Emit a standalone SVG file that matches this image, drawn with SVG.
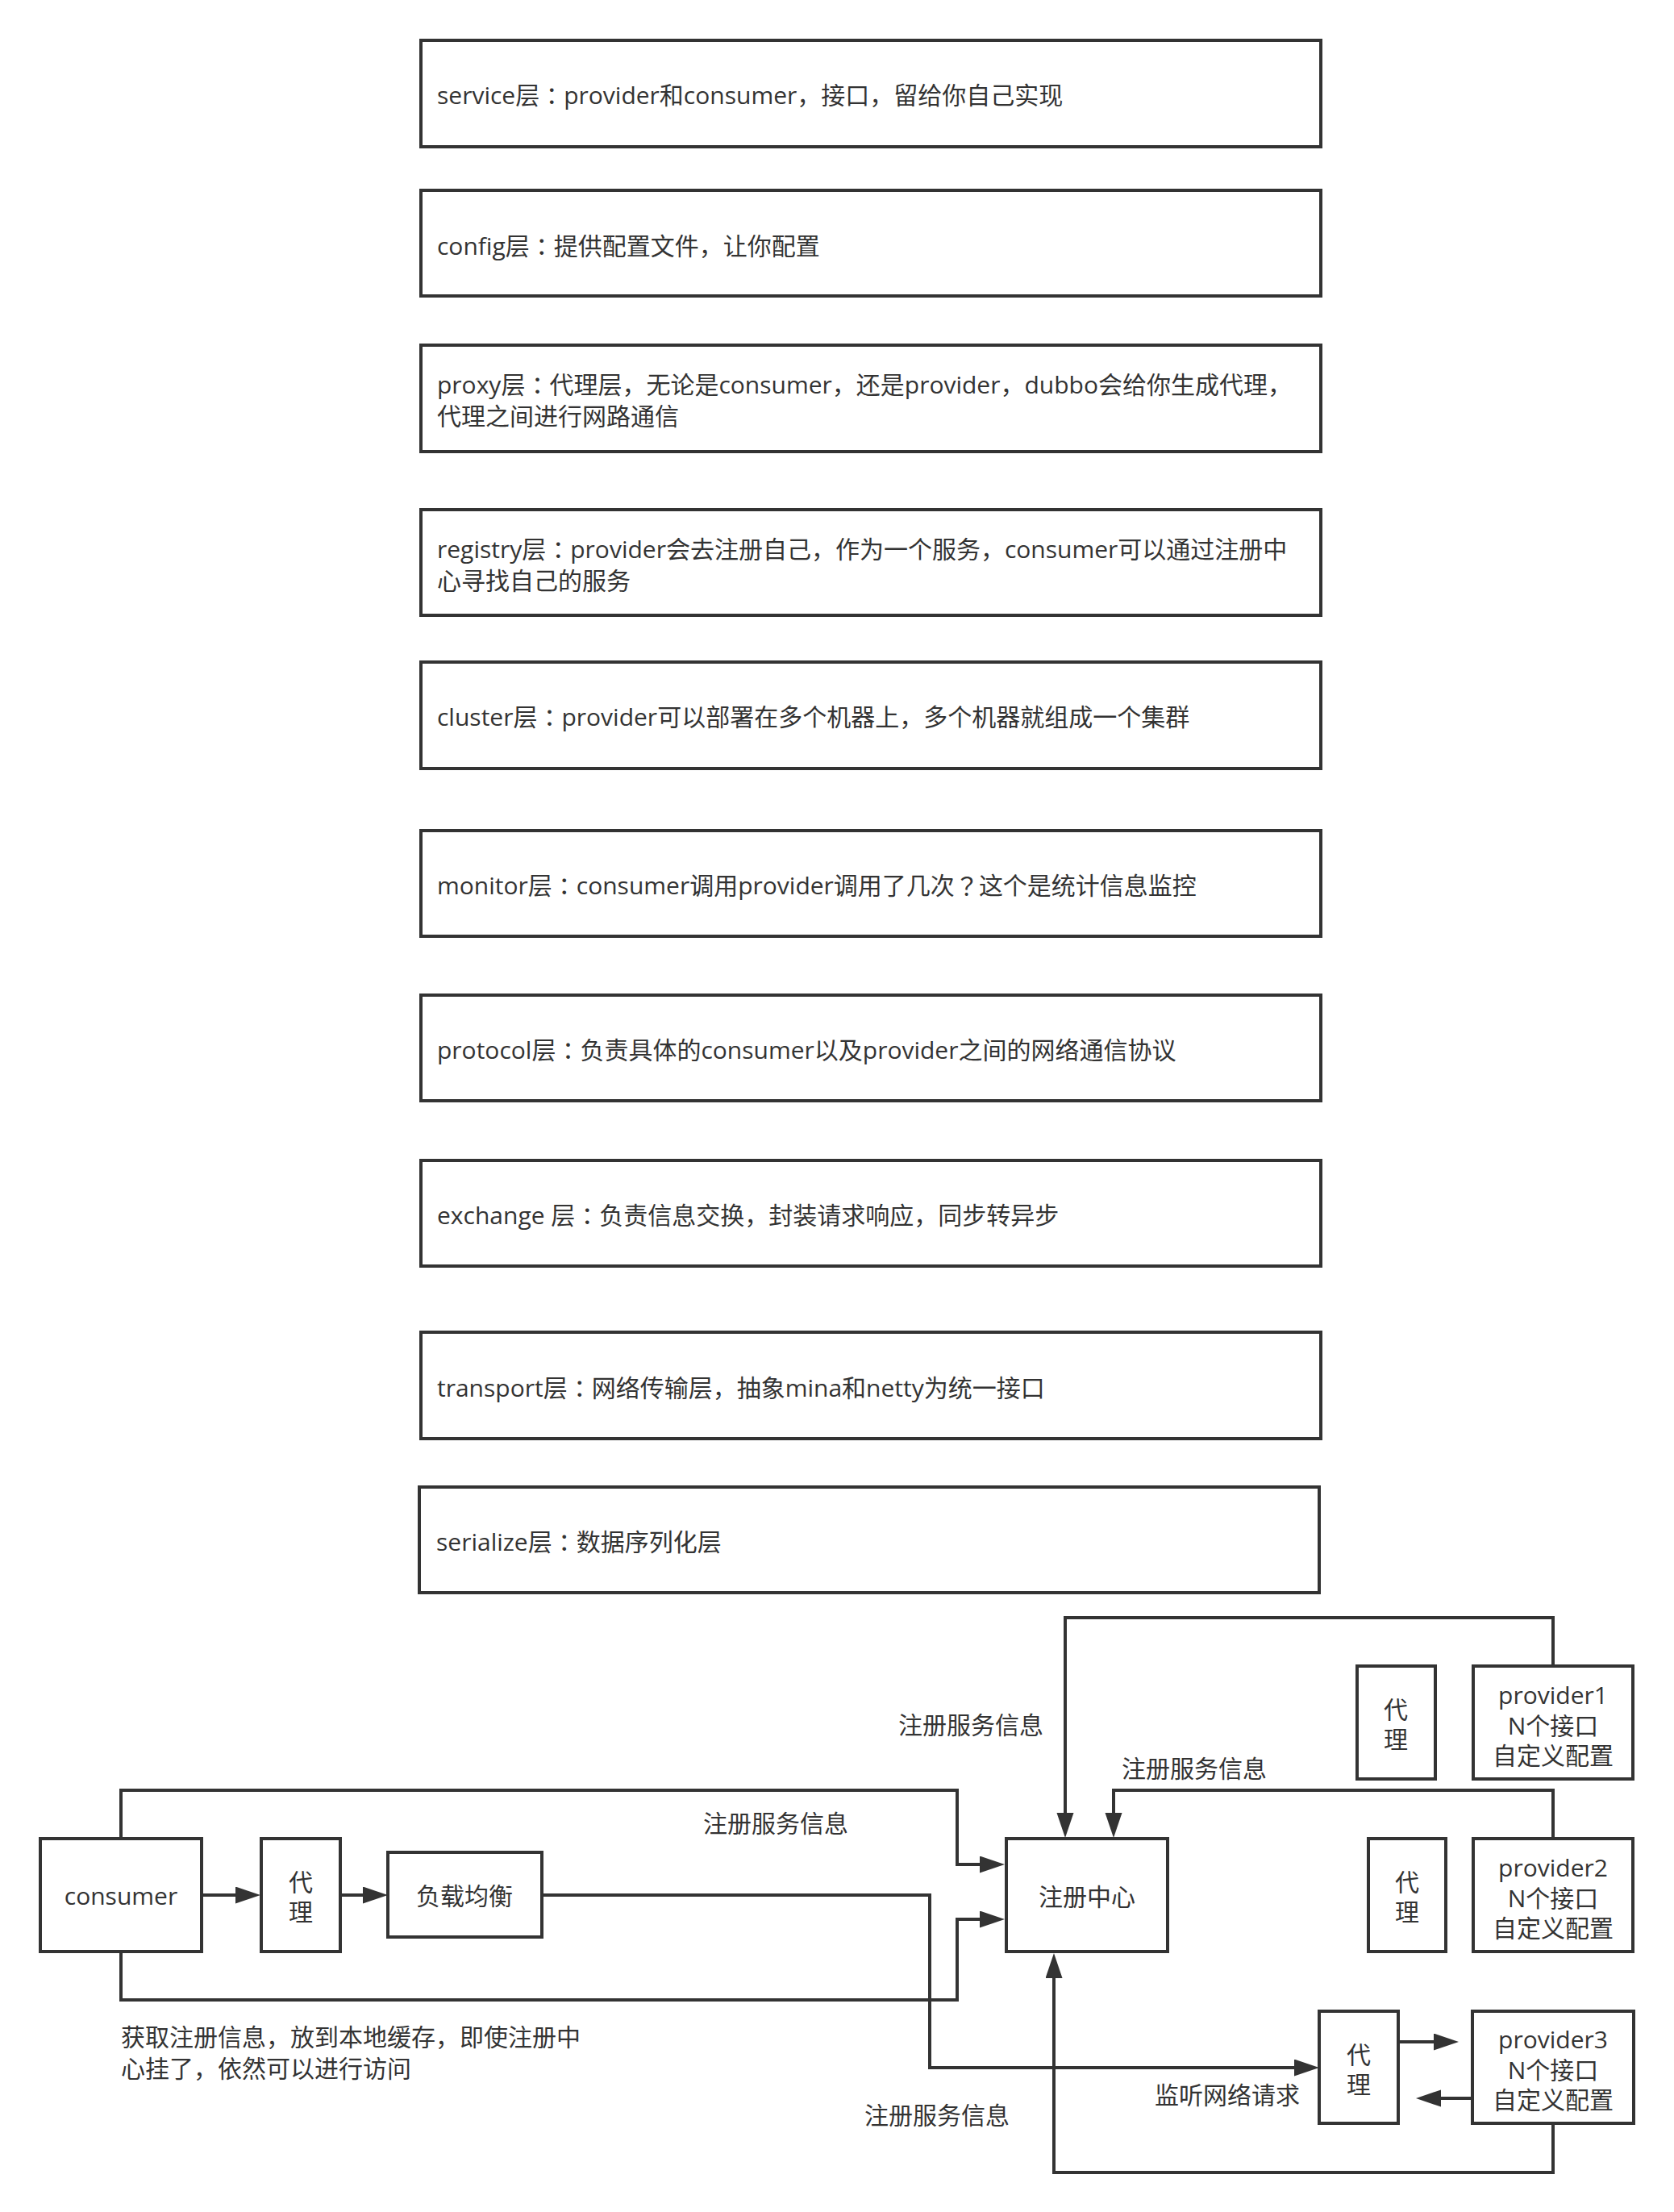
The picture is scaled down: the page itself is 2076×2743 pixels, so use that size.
<svg xmlns="http://www.w3.org/2000/svg" width="2076" height="2743" viewBox="0 0 2076 2743">
<defs>
<style>
.box{fill:#fff;stroke:#333;stroke-width:4}
.t{font-family:"Open Sans","Noto Sans CJK SC",sans-serif;font-size:30px;fill:#333;dominant-baseline:central}
.p{font-family:"Noto Sans CJK TC",sans-serif}
.c{text-anchor:middle}
.ln{fill:none;stroke:#333;stroke-width:4}
</style>
<marker id="ah" markerUnits="userSpaceOnUse" markerWidth="32" markerHeight="22" refX="0" refY="10.5" orient="auto">
<path d="M0,0 L31,10.5 L0,21 Z" fill="#333"/>
</marker>
</defs>
<rect width="2076" height="2743" fill="#fff"/>

<g id="layer-service"><rect class="box" x="522" y="50" width="1116" height="132"/><text class="t" x="542" y="117">service层<tspan class="p">：</tspan>provider和consumer，接口，留给你自己实现</text></g>
<g id="layer-config"><rect class="box" x="522" y="236" width="1116" height="131"/><text class="t" x="542" y="304">config层<tspan class="p">：</tspan>提供配置文件，让你配置</text></g>
<g id="layer-proxy"><rect class="box" x="522" y="428" width="1116" height="132"/><text class="t" x="542" y="476">proxy层<tspan class="p">：</tspan>代理层，无论是consumer，还是provider，dubbo会给你生成代理，</text><text class="t" x="542" y="515">代理之间进行网路通信</text></g>
<g id="layer-registry"><rect class="box" x="522" y="632" width="1116" height="131"/><text class="t" x="542" y="680">registry层<tspan class="p">：</tspan>provider会去注册自己，作为一个服务，consumer可以通过注册中</text><text class="t" x="542" y="719">心寻找自己的服务</text></g>
<g id="layer-cluster"><rect class="box" x="522" y="821" width="1116" height="132"/><text class="t" x="542" y="888">cluster层<tspan class="p">：</tspan>provider可以部署在多个机器上，多个机器就组成一个集群</text></g>
<g id="layer-monitor"><rect class="box" x="522" y="1030" width="1116" height="131"/><text class="t" x="542" y="1097">monitor层<tspan class="p">：</tspan>consumer调用provider调用了几次<tspan class="p">？</tspan>这个是统计信息监控</text></g>
<g id="layer-protocol"><rect class="box" x="522" y="1234" width="1116" height="131"/><text class="t" x="542" y="1301">protocol层<tspan class="p">：</tspan>负责具体的consumer以及provider之间的网络通信协议</text></g>
<g id="layer-exchange"><rect class="box" x="522" y="1439" width="1116" height="131"/><text class="t" x="542" y="1506">exchange 层<tspan class="p">：</tspan>负责信息交换，封装请求响应，同步转异步</text></g>
<g id="layer-transport"><rect class="box" x="522" y="1652" width="1116" height="132"/><text class="t" x="542" y="1720">transport层<tspan class="p">：</tspan>网络传输层，抽象mina和netty为统一接口</text></g>
<g id="layer-serialize"><rect class="box" x="520" y="1844" width="1116" height="131"/><text class="t" x="541" y="1911">serialize层<tspan class="p">：</tspan>数据序列化层</text></g>

<g id="connectors">
<path class="ln" d="M250,2350 H292" marker-end="url(#ah)"/>
<path class="ln" d="M422,2350 H450" marker-end="url(#ah)"/>
<path class="ln" d="M672,2350 H1153 V2564 H1605" marker-end="url(#ah)"/>
<path class="ln" d="M150,2280 V2220 H1187 V2312 H1215" marker-end="url(#ah)"/>
<path class="ln" d="M150,2420 V2480 H1187 V2380 H1215" marker-end="url(#ah)"/>
<path class="ln" d="M1926,2066 V2006 H1321 V2248" marker-end="url(#ah)"/>
<path class="ln" d="M1926,2280 V2220 H1381 V2248" marker-end="url(#ah)"/>
<path class="ln" d="M1926,2633 V2694 H1307 V2453" marker-end="url(#ah)"/>
<path class="ln" d="M1734,2532 H1778" marker-end="url(#ah)"/>
<path class="ln" d="M1826,2602 H1787" marker-end="url(#ah)"/>
</g>

<g id="consumer"><rect class="box" x="50" y="2280" width="200" height="140"/><text class="t c" x="150" y="2350">consumer</text></g>
<g id="proxy-consumer"><rect class="box" x="324" y="2280" width="98" height="140"/><text class="t c" x="373" y="2333">代</text><text class="t c" x="373" y="2370">理</text></g>
<g id="loadbalance"><rect class="box" x="481" y="2297" width="191" height="105"/><text class="t c" x="576" y="2350">负载均衡</text></g>
<g id="registry"><rect class="box" x="1248" y="2280" width="200" height="140"/><text class="t c" x="1348" y="2351">注册中心</text></g>
<g id="proxy1"><rect class="box" x="1683" y="2066" width="97" height="140"/><text class="t c" x="1731" y="2119">代</text><text class="t c" x="1731" y="2156">理</text></g>
<g id="provider1"><rect class="box" x="1827" y="2066" width="198" height="140"/><text class="t c" x="1926" y="2101">provider1</text><text class="t c" x="1926" y="2139">N个接口</text><text class="t c" x="1926" y="2176">自定义配置</text></g>
<g id="proxy2"><rect class="box" x="1697" y="2280" width="96" height="140"/><text class="t c" x="1745" y="2333">代</text><text class="t c" x="1745" y="2370">理</text></g>
<g id="provider2"><rect class="box" x="1827" y="2280" width="198" height="140"/><text class="t c" x="1926" y="2315">provider2</text><text class="t c" x="1926" y="2353">N个接口</text><text class="t c" x="1926" y="2390">自定义配置</text></g>
<g id="proxy3"><rect class="box" x="1636" y="2494" width="98" height="139"/><text class="t c" x="1685" y="2547">代</text><text class="t c" x="1685" y="2584">理</text></g>
<g id="provider3"><rect class="box" x="1826" y="2494" width="200" height="139"/><text class="t c" x="1926" y="2528">provider3</text><text class="t c" x="1926" y="2566">N个接口</text><text class="t c" x="1926" y="2603">自定义配置</text></g>

<g id="labels">
<text class="t c" x="1204" y="2138">注册服务信息</text>
<text class="t c" x="1481" y="2192">注册服务信息</text>
<text class="t c" x="962" y="2260">注册服务信息</text>
<text class="t c" x="1162" y="2622">注册服务信息</text>
<text class="t c" x="1522" y="2597">监听网络请求</text>
<text class="t" x="150" y="2525">获取注册信息，放到本地缓存，即使注册中</text>
<text class="t" x="150" y="2564">心挂了，依然可以进行访问</text>
</g>
</svg>
